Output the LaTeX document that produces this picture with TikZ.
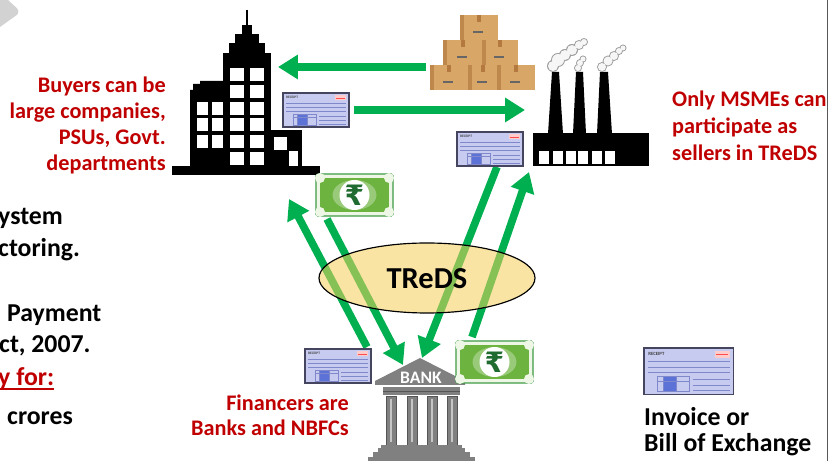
\documentclass[tikz,border=0pt]{standalone}
\usepackage{fontspec}
\setmainfont{Carlito}
\newfontfamily\rupeefont{DejaVu Sans}
\usetikzlibrary{arrows.meta}

\definecolor{flowgreen}{HTML}{00B050}
\definecolor{darkred}{HTML}{C00000}
\definecolor{cardboard}{HTML}{D8A767}
\definecolor{cardboarddark}{HTML}{B3793F}
\definecolor{bankgray}{HTML}{808080}
\definecolor{bankdark}{HTML}{555555}
\definecolor{receiptfill}{HTML}{C7CBF0}
\definecolor{receiptedge}{HTML}{454560}
\definecolor{receiptline}{HTML}{8088CC}
\definecolor{receipttable}{HTML}{5C72D6}
\definecolor{tredsyellow}{HTML}{F5CF5A}
\definecolor{noteedge}{HTML}{3E9B45}
\definecolor{notebg}{HTML}{EEF7E6}
\definecolor{notemid}{HTML}{6DB33F}
\definecolor{notedark}{HTML}{1F6B30}

\tikzset{
  flow/.style={draw=flowgreen, line width=6.5pt, -{Triangle[length=17pt,width=20pt]}},
  redtxt/.style={text=darkred, font=\bfseries\fontsize{19}{23}\selectfont, inner sep=0pt},
  blktxt/.style={text=black, font=\bfseries\fontsize{22}{26}\selectfont, inner sep=0pt},
}

%%%% invoice slip, #1 = top left corner, #2 = scale
\newcommand{\receipt}[2]{%
  \begin{scope}[shift={(#1)}, scale=#2]
    \draw[draw=receiptedge, line width=1pt, fill=receiptfill] (0,0) rectangle (66,34);
    \node[anchor=west, inner sep=0pt, transform shape, text=black!75,
          font=\bfseries\fontsize{3}{3}\selectfont] at (3,4.5) {RECEIPT};
    \fill[red!20] (52,2.5) rectangle (63,7);
    \draw[red!70, line width=0.4pt] (53,4.75) -- (62,4.75);
    \foreach \yy in {10,14,18}
      \draw[receiptline, line width=0.3pt] (3,\yy) -- (63,\yy);
    \fill[receipttable] (14,21) rectangle (24,32);
    \draw[receiptline, line width=0.3pt] (10,21) rectangle (33,32)
      (14,21) -- (14,32) (24,21) -- (24,32) (10,24.5) -- (33,24.5);
    \foreach \yy in {23,27,31}
      \draw[receiptline, line width=0.3pt] (36,\yy) -- (63,\yy);
  \end{scope}}

%%%% rupee note, #1 = top left corner
\newcommand{\rupeenote}[1]{%
  \begin{scope}[shift={(#1)}]
    \draw[draw=noteedge, line width=1.2pt, fill=notebg, rounded corners=1.5pt] (0,0) rectangle (77,42);
    \fill[notemid] (4,4) rectangle (73,38);
    \foreach \cx/\cy in {4/4, 73/4, 4/38, 73/38}
      \fill[notebg] (\cx,\cy) circle (5);
    \fill[notemid!70!white] (38.5,21) ellipse [x radius=22, y radius=15];
    \fill[white] (38.5,21) circle (15);
    \node[text=notedark, font=\rupeefont\bfseries\fontsize{24}{24}\selectfont] at (38.5,21) {₹};
  \end{scope}}

%%%% one carton, #1,#2 = left/top, #3,#4 = right/bottom
\newcommand{\carton}[4]{%
  \fill[cardboard] (#1,#2) rectangle (#3,#4);
  \fill[cardboarddark!70!cardboard] (#1,#2) rectangle ({#1+4},#4);
  \fill[cardboarddark] ({(#1+#3)/2-2},#2) rectangle ({(#1+#3)/2+2},{#2+7});
  \fill[black!60] ({(#1+#3)/2-6},{#4-9}) rectangle ({(#1+#3)/2+4},{#4-7});}

\begin{document}
\begin{tikzpicture}[x=0.03cm, y=-0.03cm]
\useasboundingbox (0,0) rectangle (828,461);
\clip (0,0) rectangle (828,461);
\fill[white] (0,0) rectangle (828,461);
\fill[gray!35, rounded corners=5] (-14,37) -- (21,12) -- (-5,-12) -- (-30,-12) -- cycle;
\draw[black!65, line width=0.8pt] (827.5,0) -- (827.5,461);

%%%% Building:
\fill[black] (245.7,10) rectangle (248.3,26);
\fill[black] (242,25) rectangle (252,35);
\fill[black] (235,34) rectangle (259,44);
\fill[black] (229,43) rectangle (265,54);
\fill[black] (223,53) rectangle (271,170);
\fill[black] (190,170) -- (190,90) -- (193,90) -- (193,84) -- (200,84) -- (200,81) -- (224,81) -- (224,170) -- cycle;
\fill[black] (270,130) rectangle (302,170);
\fill[black] (172,166) rectangle (320,175);
\foreach \wy in {68,85,102,118,135,152} {
  \fill[white] (230,\wy) rectangle ++(14,13);
  \fill[white] (250,\wy) rectangle ++(14,13);
}
\foreach \wy in {102,118,135} {
  \fill[white] (197,\wy) rectangle ++(11,13);
  \fill[white] (212,\wy) rectangle ++(11,13);
}
\fill[white] (274,137) rectangle (287,150);
\fill[white] (289,151) rectangle (298,166);

%%%% Cartons:
\carton{460}{15}{498}{40}
\carton{443}{40}{482}{65}
\carton{482}{40}{518}{65}
\carton{430}{65}{468}{90}
\carton{468}{65}{497}{90}
\carton{497}{65}{535}{90}

%%%% Factory:
\fill[black] (533,133) rectangle (649,166);
\fill[black] (548,134) -- (552,72) -- (559,72) -- (563,134) -- cycle;
\fill[black] (573,134) -- (576,72) -- (583,72) -- (586,134) -- cycle;
\fill[black] (597,134) -- (600,72) -- (608,72) -- (612,134) -- cycle;
\foreach \wx in {539,553,566,578,592,605}
  \fill[white] (\wx,151) rectangle ++(10,13);
\def\smoke{553/66/5, 558/60/6, 565/55/5, 572/50/5, 579/45/4, 584/42/3,
  578/68/3, 580/63/3, 583/59/2.5,
  602/67/4, 608/61/4.5, 614/56/4, 619/51/3, 623/48/2.5}
\foreach \px/\py/\pr in \smoke
  \fill[gray!75] (\px,\py) circle ({\pr+1});
\foreach \px/\py/\pr in \smoke
  \fill[white!93!gray] (\px,\py) circle (\pr);

%%%% Bank:
\fill[bankgray] (375,385) -- (375,381) -- (420,358) -- (465,381) -- (465,385) -- cycle;
\fill[bankgray] (383,387) rectangle (460,395);
\draw[bankdark, line width=0.5pt] (383,391) -- (460,391);
\foreach \cx in {386,407,427,447} {
  \draw[bankdark, fill=bankgray, line width=0.6pt] (\cx,396) rectangle ++(10,49);
  \fill[gray!45] (\cx+4,399) rectangle ++(2,43);
}
\fill[bankgray] (381,445) rectangle (462,448);
\fill[bankgray] (378,448) rectangle (465,452);
\fill[bankgray] (373,452) rectangle (470,457);
\fill[bankgray] (368,457) rectangle (475,461);
\node[text=white, font=\bfseries\fontsize{15}{15}\selectfont, inner sep=0pt] (bank) at (421,378) {BANK};

%%%% Arrow ends:
\coordinate (cartonsW) at (426,67);
\coordinate (buildingE) at (278,67);
\coordinate (slipE) at (354,110);
\coordinate (factoryW) at (525,110);
\coordinate (slipS) at (497,167);
\coordinate (bankTop) at (422,358);
\coordinate (bankSlip) at (367,347);
\coordinate (buildingS) at (289,199);
\coordinate (noteSW) at (327,219);
\coordinate (bankLeft) at (403,365);
\coordinate (noteNW) at (472,337);
\coordinate (factoryS) at (529,172);

\draw[flow] (cartonsW) -- (buildingE);
\draw[flow] (slipE) -- (factoryW);
\draw[flow] (slipS) -- (bankTop);
\draw[flow] (bankSlip) -- (buildingS);
\draw[flow] (noteSW) -- (bankLeft);
\draw[flow] (noteNW) -- (factoryS);

%%%% TReDS:
\draw[black, line width=1pt, fill=tredsyellow, fill opacity=0.55] (427,278) ellipse [x radius=108, y radius=35];
\node[font=\bfseries\fontsize{26}{26}\selectfont, inner sep=0pt] (treds) at (427,279) {TReDS};

%%%% Slips and notes:
\receipt{283,93}{1}
\receipt{457,132}{1}
\receipt{305,349}{1}
\receipt{644,348}{1.36}
\rupeenote{316,174}
\rupeenote{456,341}

%%%% Labels:
\node[redtxt, anchor=base east] (buy1) at (166,93) {Buyers can be};
\node[redtxt, anchor=base east] (buy2) at (166,119) {large companies,};
\node[redtxt, anchor=base east] (buy3) at (166,145) {PSUs, Govt.};
\node[redtxt, anchor=base east] (buy4) at (166,171) {departments};
\node[redtxt, anchor=base west] (msme1) at (672,107) {Only MSMEs can};
\node[redtxt, anchor=base west] (msme2) at (672,134) {participate as};
\node[redtxt, anchor=base west] (msme3) at (672,161) {sellers in TReDS};
\node[redtxt, anchor=base east] (fin1) at (349,411) {Financers are};
\node[redtxt, anchor=base east] (fin2) at (349,436) {Banks and NBFCs};
\node[blktxt, anchor=base west] (inv1) at (644,426) {Invoice or};
\node[blktxt, anchor=base west] (inv2) at (644,452) {Bill of Exchange};

%%%% Text cut at the left edge:
\node[blktxt, anchor=base west] (frag1) at (-2,225) {ystem};
\node[blktxt, anchor=base west] (frag2) at (-2,257) {ctoring.};
\node[blktxt, anchor=base west] (frag3) at (7,322) {Payment};
\node[blktxt, anchor=base west] (frag4) at (-1,353) {ct, 2007.};
\node[blktxt, text=darkred, anchor=base west] (frag5) at (-2,386) {y for:};
\draw[darkred, line width=1.3pt] (0,389) -- (frag5.east |- 0,389);
\node[blktxt, anchor=base west] (frag6) at (7,425) {crores};
\end{tikzpicture}
\end{document}
